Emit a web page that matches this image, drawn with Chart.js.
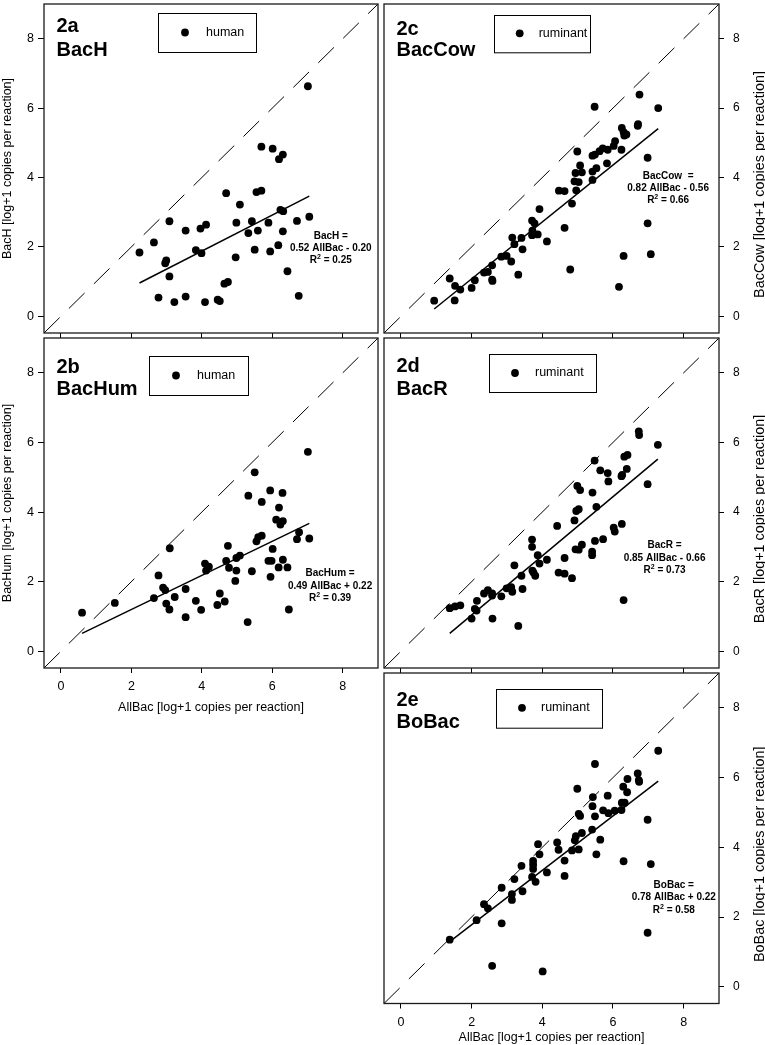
<!DOCTYPE html>
<html>
<head>
<meta charset="utf-8">
<script src="https://cdn.jsdelivr.net/npm/chart.js@4.4.1/dist/chart.umd.min.js"></script>
<style>
  html, body { margin: 0; padding: 0; background: #fff; }
  #wrap { position: relative; width: 765px; height: 1045px; }
  canvas { position: absolute; display: block; }
</style>
</head>
<body>
<div id="wrap">
  <canvas id="c2a" width="382" height="340" style="left:0;top:0"></canvas>
  <canvas id="c2c" width="385" height="340" style="left:380px;top:0"></canvas>
  <canvas id="c2b" width="382" height="381" style="left:0;top:334px"></canvas>
  <canvas id="c2d" width="385" height="341" style="left:380px;top:334px"></canvas>
  <canvas id="c2e" width="385" height="376" style="left:380px;top:669px"></canvas>
</div>
<script>
const FONT = "'Liberation Sans', Arial, Helvetica, sans-serif";
const axisMin = -0.48, axisMax = 9.0;
const tickValues = [0, 2, 4, 6, 8];
const xTitle = 'AllBac [log+1 copies per reaction]';

// 2a  BacH vs AllBac (human samples)
const allBac2a = [2.23,2.64,2.77,2.96,2.99,3.08,3.08,3.22,3.54,3.54,3.83,3.96,3.99,4.09,4.12,4.45,4.51,4.64,4.74,4.69,4.96,4.98,5.08,5.32,5.42,5.50,5.55,5.69,5.59,5.69,5.89,5.94,6.01,6.17,6.19,6.23,6.30,6.31,6.30,6.43,6.70,6.75,7.01,7.05];
const bacH = [1.84,2.13,0.54,1.53,1.61,2.74,1.15,0.41,2.47,0.57,1.91,2.53,1.82,0.41,2.64,0.48,0.44,0.94,0.99,3.55,1.70,2.70,3.22,2.40,2.74,1.92,3.58,3.62,2.47,4.89,2.70,1.87,4.83,2.05,4.53,3.07,4.66,3.03,2.45,1.30,2.75,0.59,6.63,2.87];

// 2b  BacHum vs AllBac (human samples)
const allBac2b = [0.60,1.53,2.64,2.77,2.90,2.96,2.99,3.09,3.08,3.23,3.54,3.54,3.83,3.98,4.09,4.12,4.20,4.44,4.51,4.65,4.69,4.74,4.77,4.95,4.98,4.98,5.08,5.30,5.32,5.42,5.50,5.55,5.60,5.70,5.70,5.89,5.94,5.95,5.98,6.01,6.11,6.18,6.19,6.23,6.30,6.29,6.30,6.43,6.47,6.70,6.76,7.01,7.05];
const bacHum = [1.11,1.39,1.53,2.18,1.83,1.76,1.37,2.96,1.20,1.56,1.79,0.98,1.45,1.19,2.52,2.32,2.43,1.33,1.66,1.43,2.60,3.03,2.40,2.02,2.68,2.32,2.75,0.84,4.47,2.30,5.14,3.16,3.28,3.32,4.29,2.60,4.62,2.14,2.60,2.94,3.78,2.41,4.13,3.64,3.74,4.55,2.63,2.41,1.20,3.22,3.42,5.73,3.24];

// 2c  BacCow vs AllBac (ruminant samples)
const allBac2c = [0.94,1.38,1.53,1.52,1.68,2.00,2.09,2.35,2.46,2.58,2.58,2.59,2.84,2.99,3.12,3.15,3.21,3.32,3.41,3.44,3.71,3.72,3.71,3.78,3.87,3.92,4.13,4.47,4.63,4.63,4.79,4.84,4.94,4.91,4.96,4.99,5.03,5.07,5.12,5.42,5.49,5.42,5.42,5.48,5.53,5.62,5.71,5.85,5.83,6.02,6.06,6.17,6.24,6.25,6.30,6.32,6.38,6.30,6.70,6.71,6.75,6.98,6.98,7.07,7.28];
const bacCow = [0.45,1.09,0.88,0.46,0.77,0.82,1.04,1.26,1.28,1.47,1.06,1.02,1.72,1.74,1.58,2.27,2.08,1.20,2.26,1.93,2.76,2.47,2.34,2.68,2.36,3.09,2.16,3.62,3.61,2.55,1.35,3.25,4.13,3.89,3.63,4.75,3.87,4.35,4.15,4.63,4.66,4.17,3.93,6.04,4.27,4.76,4.84,4.80,4.41,4.91,5.05,0.85,4.80,5.43,5.31,5.21,5.24,1.74,5.49,5.54,6.39,4.57,2.68,1.79,6.00];

// 2d  BacR vs AllBac (ruminant samples)
const allBac2d = [1.38,1.53,1.68,2.00,2.09,2.14,2.15,2.35,2.46,2.58,2.58,2.59,2.84,2.99,3.12,3.15,3.21,3.32,3.41,3.44,3.71,3.71,3.72,3.75,3.80,3.87,3.92,4.13,4.42,4.46,4.63,4.63,4.84,4.91,4.94,4.96,4.99,5.03,5.03,5.07,5.12,5.42,5.41,5.41,5.48,5.49,5.53,5.64,5.72,5.85,5.87,6.02,6.05,6.24,6.26,6.25,6.30,6.32,6.41,6.39,6.73,6.74,6.98,7.27];
const bacR = [1.24,1.29,1.32,0.94,1.22,1.17,1.45,1.66,1.76,1.66,1.60,0.94,1.58,1.81,1.84,1.71,2.47,0.73,2.17,1.79,3.21,3.00,2.32,2.26,2.17,2.76,2.52,2.63,3.60,2.26,2.68,2.23,2.10,3.76,2.93,4.03,4.75,4.08,2.92,4.63,3.06,4.56,2.86,2.76,5.48,3.17,4.15,5.20,3.22,5.12,4.88,3.55,3.44,5.03,5.07,3.66,1.47,5.59,5.64,5.24,6.32,6.21,4.80,5.93];

// 2e  BoBac vs AllBac (ruminant samples)
const allBac2e = [1.38,2.14,2.35,2.46,2.58,2.85,2.85,3.14,3.14,3.21,3.41,3.44,3.71,3.74,3.74,3.74,3.81,3.88,3.92,4.13,4.01,4.42,4.46,4.63,4.63,4.84,4.92,4.95,4.99,5.03,5.07,5.03,5.12,5.41,5.42,5.43,5.49,5.49,5.53,5.64,5.72,5.85,5.87,6.05,6.24,6.25,6.29,6.30,6.33,6.41,6.40,6.70,6.73,6.74,6.98,6.98,7.07,7.28];
const boBac = [1.35,1.91,2.37,2.25,0.60,2.84,1.82,2.66,2.49,3.09,3.47,2.74,3.15,3.61,3.50,3.38,3.01,4.09,3.80,3.28,0.44,4.14,3.93,3.62,3.18,3.91,4.20,4.32,5.68,4.96,4.90,3.94,4.41,4.51,5.18,5.44,6.39,4.89,3.80,4.22,5.06,5.48,4.98,5.05,5.07,5.28,5.74,3.60,5.28,5.96,5.58,6.12,5.93,5.88,4.79,1.55,3.52,6.77];

// regression fits: 2a, 2b, 2c, 2d, 2e
const fitSlope = [0.52, 0.49, 0.82, 0.85, 0.78];
const fitIntercept = [-0.20, 0.22, -0.56, -0.66, 0.22];
const fitR2 = [0.25, 0.39, 0.66, 0.73, 0.58];

// draws frame, panel tag, legend box, equation and right-hand titles
const decor = {
  id: 'decor',
  afterDatasetsDraw(chart, args, o) {
    const { ctx, chartArea: a, scales: { x, y } } = chart;
    ctx.save();
    ctx.fillStyle = '#000';
    ctx.strokeStyle = '#1a1a1a';
    ctx.lineWidth = 1.3;
    ctx.strokeRect(a.left, a.top, a.right - a.left, a.bottom - a.top);

    ctx.font = `bold 20px ${FONT}`;
    ctx.textAlign = 'left';
    ctx.textBaseline = 'alphabetic';
    ctx.fillText(o.tag[0], a.left + 12.5, a.top + o.tagY[0]);
    ctx.fillText(o.tag[1], a.left + 12.5, a.top + o.tagY[1]);

    // legend
    const [bx, by, bw, bh] = o.box;
    ctx.lineWidth = 1;
    ctx.strokeStyle = '#000';
    ctx.strokeRect(Math.round(a.left + bx) + 0.5, Math.round(a.top + by) + 0.5, bw, bh);
    const cy = a.top + by + bh / 2;
    ctx.beginPath();
    ctx.arc(a.left + bx + o.dotX, cy, 3.9, 0, Math.PI * 2);
    ctx.fill();
    ctx.font = `12.5px ${FONT}`;
    ctx.textBaseline = 'middle';
    ctx.fillText(chart.data.datasets[0].label, a.left + bx + o.textX, cy);

    // regression equation
    const k = o.fit;
    const ex = x.getPixelForValue(o.eqAt[0]);
    const ey = y.getPixelForValue(o.eqAt[1]);
    const b = fitIntercept[k];
    const l2 = `${fitSlope[k].toFixed(2)} AllBac ${b < 0 ? '-' : '+'} ${Math.abs(b).toFixed(2)}`;
    ctx.font = `bold 10px ${FONT}`;
    ctx.textAlign = 'center';
    ctx.textBaseline = 'alphabetic';
    ctx.fillText(o.eqName, ex, ey);
    ctx.fillText(l2, ex, ey + o.eqGap);
    const rest = ' = ' + fitR2[k].toFixed(2);
    const wR = ctx.measureText('R').width;
    const wRest = ctx.measureText(rest).width;
    ctx.font = `bold 7px ${FONT}`;
    const wS = ctx.measureText('2').width;
    let sx = ex - (wR + wS + wRest) / 2;
    const y3 = ey + 2 * o.eqGap;
    ctx.textAlign = 'left';
    ctx.fillText('2', sx + wR, y3 - 4);
    ctx.font = `bold 10px ${FONT}`;
    ctx.fillText('R', sx, y3);
    ctx.fillText(rest, sx + wR + wS, y3);

    if (o.rightTitle) {
      ctx.translate(o.rightTitleX, (a.top + a.bottom) / 2 + 16);
      ctx.rotate(-Math.PI / 2);
      ctx.font = `14.4px ${FONT}`;
      ctx.textAlign = 'center';
      ctx.textBaseline = 'middle';
      ctx.fillText(o.rightTitle, 0, 0);
    }
    ctx.restore();
  }
};

function makeScales(p) {
  const setTicks = s => { s.ticks = tickValues.map(v => ({ value: v })); };
  const noPad = s => { s.paddingTop = 0; s.paddingBottom = 0; s.paddingLeft = 0; s.paddingRight = 0; };
  const left = p.side === 'left';
  return {
    x: {
      type: 'linear', position: 'bottom', min: axisMin, max: axisMax,
      afterBuildTicks: setTicks,
      afterFit: s => { s.height = p.xh; noPad(s); },
      grid: { drawOnChartArea: false, drawTicks: true, tickLength: 5, color: '#000' },
      border: { display: false },
      ticks: { display: p.xLab, padding: 6.5, color: '#000', font: { family: FONT, size: 12.5 }, maxRotation: 0, autoSkip: false },
      title: { display: p.xLab, text: xTitle, color: '#000', font: { family: FONT, size: 12.5 }, padding: 0 }
    },
    y: {
      type: 'linear', position: p.side, min: axisMin, max: axisMax,
      afterBuildTicks: setTicks,
      afterFit: s => { s.width = p.yw; noPad(s); },
      grid: { drawOnChartArea: false, drawTicks: true, tickLength: left ? 6 : 5, color: '#000' },
      border: { display: false },
      ticks: { padding: left ? 4 : 9, color: '#000', font: { family: FONT, size: left ? 12.5 : 12 }, autoSkip: false },
      title: { display: left, text: p.yTitle, color: '#000', font: { family: FONT, size: 12.5 }, padding: 0 }
    }
  };
}

function makeDatasets(label, xs, ys, k) {
  const x0 = Math.min(...xs), x1 = Math.max(...xs);
  return [
    { label, data: xs.map((v, i) => ({ x: v, y: ys[i] })), pointRadius: 3.9, pointBackgroundColor: '#000', pointBorderWidth: 0, order: 0 },
    { label: 'fit', data: [x0, x1].map(v => ({ x: v, y: fitSlope[k] * v + fitIntercept[k] })), showLine: true, borderColor: '#000', borderWidth: 1.5, pointRadius: 0, order: 1 },
    { label: '1:1', data: [{ x: axisMin, y: axisMin }, { x: axisMax, y: axisMax }], showLine: true, borderColor: '#000', borderWidth: 1, borderDash: [22, 13], pointRadius: 0, order: 2 }
  ];
}

function panel(id, p) {
  new Chart(document.getElementById(id), {
    type: 'scatter',
    data: { datasets: makeDatasets(p.label, p.xs, p.ys, p.fit) },
    options: {
      responsive: false, animation: false, events: [],
      layout: { padding: p.pad },
      scales: makeScales(p),
      plugins: {
        legend: { display: false }, tooltip: { enabled: false },
        decor: { tag: p.tag, tagY: p.tagY, box: p.box, dotX: p.dotX, textX: p.textX,
                 fit: p.fit, eqName: p.eqName, eqAt: p.eqAt, eqGap: p.eqGap,
                 rightTitle: p.side === 'right' ? p.yTitle : null, rightTitleX: 380 }
      }
    },
    plugins: [decor]
  });
}

panel('c2a', { label: 'human', xs: allBac2a, ys: bacH, fit: 0, side: 'left', yw: 44, xh: 7, xLab: false,
  pad: { top: 1, right: 3, left: 0, bottom: 0 }, yTitle: 'BacH [log+1 copies per reaction]',
  tag: ['2a', 'BacH'], tagY: [28, 51.7], box: [114, 9, 98, 39], dotX: 27, textX: 48,
  eqName: 'BacH =', eqAt: [7.66, 2.23], eqGap: 11.8 });

panel('c2c', { label: 'ruminant', xs: allBac2c, ys: bacCow, fit: 2, side: 'right', yw: 46, xh: 7, xLab: false,
  pad: { top: 1, right: 0, left: 0, bottom: 0 }, yTitle: 'BacCow [log+1 copies per reaction]',
  tag: ['2c', 'BacCow'], tagY: [30.7, 52.3], box: [109.7, 10.7, 96, 37.3], dotX: 26, textX: 45,
  eqName: 'BacCow  =', eqAt: [7.56, 3.97], eqGap: 12.2 });

panel('c2b', { label: 'human', xs: allBac2b, ys: bacHum, fit: 1, side: 'left', yw: 44, xh: 47, xLab: true,
  pad: { top: 1, right: 3, left: 0, bottom: 0 }, yTitle: 'BacHum [log+1 copies per reaction]',
  tag: ['2b', 'BacHum'], tagY: [34.7, 57], box: [105, 18, 99, 39], dotX: 27, textX: 48,
  eqName: 'BacHum =', eqAt: [7.64, 2.16], eqGap: 12.6 });

panel('c2d', { label: 'ruminant', xs: allBac2d, ys: bacR, fit: 3, side: 'right', yw: 46, xh: 7, xLab: false,
  pad: { top: 1, right: 0, left: 0, bottom: 0 }, yTitle: 'BacR [log+1 copies per reaction]',
  tag: ['2d', 'BacR'], tagY: [34.3, 57], box: [105, 16, 107, 38], dotX: 26, textX: 46,
  eqName: 'BacR =', eqAt: [7.46, 2.96], eqGap: 12.6 });

panel('c2e', { label: 'ruminant', xs: allBac2e, ys: boBac, fit: 4, side: 'right', yw: 46, xh: 41.5, xLab: true,
  pad: { top: 1.5, right: 0, left: 0, bottom: 0 }, yTitle: 'BoBac [log+1 copies per reaction]',
  tag: ['2e', 'BoBac'], tagY: [33.2, 54.8], box: [112, 15.5, 106, 38.7], dotX: 26, textX: 45,
  eqName: 'BoBac =', eqAt: [7.72, 2.84], eqGap: 12.5 });
</script>
</body>
</html>
